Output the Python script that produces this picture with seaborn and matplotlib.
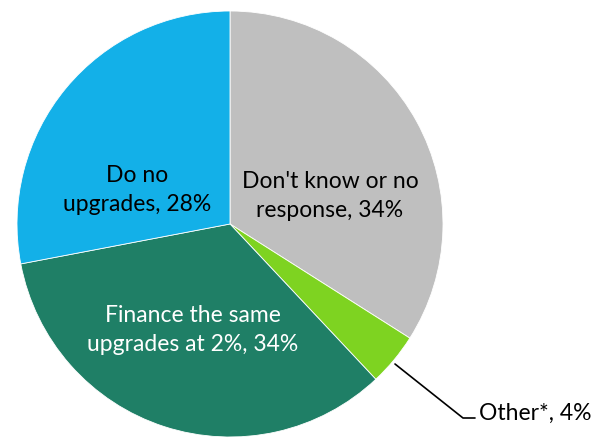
import matplotlib
matplotlib.use("Agg")
import matplotlib.pyplot as plt
import seaborn as sns

# Survey response shares (percent), drawn clockwise from 12 o'clock
categories = ["Don't know or no\nresponse", "Other*", "Finance the same\nupgrades at 2%", "Do no\nupgrades"]
shares = [34, 4, 34, 28]
colors = ["#BFBFBF", "#7ED321", "#1F7F66", "#13B0E8"]
text_colors = ["black", "black", "white", "black"]

sns.set_theme(style="white")
plt.rcParams["font.family"] = ["Lato", "DejaVu Sans"]

W, H, DPI = 601, 439, 100
fig = plt.figure(figsize=(W / DPI, H / DPI), dpi=DPI)
ax = fig.add_axes([0, 0, 1, 1])

wedges, _ = ax.pie(shares, colors=colors, startangle=90, counterclock=False,
                   radius=1.0, center=(0, 0),
                   wedgeprops=dict(edgecolor="white", linewidth=0.6))

# Pie geometry in pixels (limits set after pie, which overrides them)
cx, cy, r = 230, 225, 213
ax.set_xlim(-cx / r, (W - cx) / r)
ax.set_ylim(-(H - cy) / r, cy / r)
ax.set_aspect("equal", adjustable="datalim")
ax.axis("off")

def px(x, y):
    return ((x - cx) / r, (cy - y) / r)

fs = 16.5
label_pos = {0: px(330, 196), 2: px(193, 330), 3: px(137, 190)}
for i, pos in label_pos.items():
    ax.text(*pos, f"{categories[i]}, {shares[i]}%", ha="center", va="center",
            fontsize=fs, color=text_colors[i], linespacing=1.5)

# Leader line for the small slice
p0, p1, p2 = px(395, 365), px(463, 419), px(475, 419)
ax.plot([p0[0], p1[0], p2[0]], [p0[1], p1[1], p2[1]], color="black", lw=1.2)
ax.text(*px(479, 420), f"{categories[1]}, {shares[1]}%", ha="left", va="baseline",
        fontsize=fs, color="black")

fig.savefig("out.png", dpi=DPI)
